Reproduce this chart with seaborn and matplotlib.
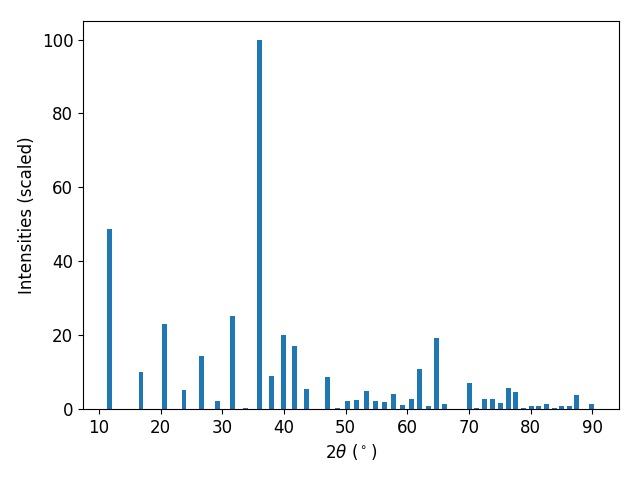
import numpy as np
import pandas as pd
import matplotlib
matplotlib.use("Agg")
import matplotlib.pyplot as plt
import seaborn as sns

two_theta = [11.78, 16.83, 20.58, 23.80, 26.71, 29.30, 31.68, 33.80, 36.02,
             38.05, 39.99, 41.77, 43.64, 47.12, 48.74, 50.36, 51.81, 53.43,
             54.89, 56.35, 57.81, 59.26, 60.72, 62.00, 63.47, 64.77, 66.06,
             70.03, 71.24, 72.54, 73.83, 75.13, 76.43, 77.56, 78.86, 80.16,
             81.30, 82.60, 83.90, 85.00, 86.30, 87.40, 89.90]
intensity = [48.8, 10.0, 23.0, 5.15, 14.4, 2.2, 25.2, 0.3, 100.0,
             8.9, 20.0, 17.1, 5.4, 8.7, 0.3, 2.2, 2.4, 4.9,
             2.2, 1.9, 4.1, 1.1, 2.7, 10.8, 0.8, 19.2, 1.4,
             7.05, 0.3, 2.7, 2.7, 1.6, 5.7, 4.6, 0.3, 0.8,
             0.8, 1.4, 0.3, 0.8, 0.8, 3.8, 1.4]

df = pd.DataFrame({"two_theta": two_theta, "intensity": intensity})

fig, ax = plt.subplots(figsize=(6.4, 4.8), dpi=100)
min_gap = np.min(np.diff(np.unique(two_theta)))
sns.barplot(data=df, x="two_theta", y="intensity", native_scale=True,
            width=0.8 / min_gap, color="#1f77b4", saturation=1,
            errorbar=None, ax=ax)
ax.set_xlabel(r"$2\theta$ ($^\circ$)", fontsize=12)
ax.set_ylabel("Intensities (scaled)", fontsize=12)
ax.tick_params(labelsize=12)
ax.set_xticks([10, 20, 30, 40, 50, 60, 70, 80, 90])
ax.set_xlim(7.43, 94.3)
ax.set_ylim(0, 105)
fig.subplots_adjust(left=0.1297, right=0.967, top=0.956, bottom=0.148)
fig.savefig("out.png", dpi=100)
